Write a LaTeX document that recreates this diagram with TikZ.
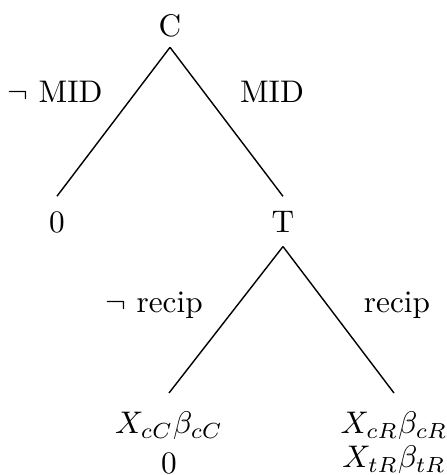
\documentclass[tikz,border=0pt]{standalone}
\begin{document}
\begin{tikzpicture}[x=0.32pt, y=-0.32pt,
    inner xsep=0pt,
    lbl/.style={anchor=base, inner sep=0pt},
    branch/.style={line width=0.45pt}]
  \useasboundingbox (0,0) rectangle (447,475);

  % decision nodes and payoffs
  \node[anchor=base, inner ysep=3.2pt] (C) at (170,36) {C};
  \node[anchor=base, inner ysep=4.6pt] (zero) at (57,232) {0};
  \node[anchor=base, inner ysep=4.45pt] (T) at (283,232) {T};
  \node[anchor=north, inner ysep=5.9pt, align=center] (nr) at (169,393)
    {$X_{cC}\beta_{cC}$\\[0.6pt] $0$};
  \node[anchor=north, inner ysep=5.9pt, align=center] (r) at (394,393)
    {$X_{cR}\beta_{cR}$\\[-1.1pt] $X_{tR}\beta_{tR}$};

  % branches
  \draw[branch] (C.south) -- (zero.north);
  \draw[branch] (C.south) -- (T.north);
  \draw[branch] (T.south) -- (nr.north);
  \draw[branch] (T.south) -- (r.north);

  % branch labels
  \node[lbl] (lnm) at (55,102) {$\neg$ MID};
  \node[lbl] (lm) at (272,102) {MID};
  \node[lbl] (lnr) at (154,312) {$\neg$ recip};
  \node[lbl] (lr) at (397,312) {recip};
\end{tikzpicture}
\end{document}
